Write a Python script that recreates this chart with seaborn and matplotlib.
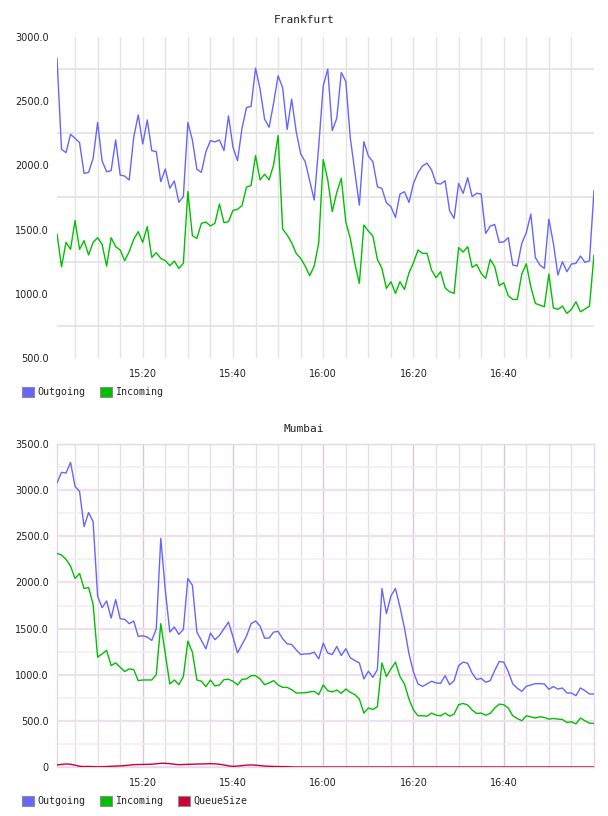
import pandas as pd
import matplotlib
matplotlib.use("Agg")
import matplotlib.pyplot as plt
import matplotlib.dates as mdates
from matplotlib.patches import Patch
from matplotlib.ticker import FixedLocator, FuncFormatter
import seaborn as sns

# one sample per minute, 15:01 .. 17:00
times = pd.date_range("2014-01-01 15:01", periods=120, freq="min")

fra_outgoing = [
    2836, 2125, 2099, 2242, 2211, 2177, 1938, 1946, 2055, 2334,
    2034, 1951, 1959, 2198, 1925, 1917, 1886, 2219, 2393, 2167,
    2354, 2115, 2107, 1873, 1972, 1822, 1879, 1713, 1757, 2334,
    2198, 1969, 1946, 2107, 2193, 2183, 2198, 2115, 2386, 2141,
    2037, 2289, 2451, 2459, 2758, 2595, 2360, 2297, 2485, 2698,
    2605, 2280, 2516, 2265, 2090, 2029, 1880, 1730, 2150, 2620,
    2750, 2271, 2367, 2724, 2654, 2211, 1951, 1690, 2185, 2073,
    2029, 1834, 1821, 1709, 1678, 1595, 1777, 1795, 1712, 1860,
    1943, 1996, 2017, 1965, 1860, 1855, 1881, 1647, 1588, 1860,
    1782, 1904, 1757, 1783, 1777, 1470, 1527, 1540, 1400, 1405,
    1437, 1224, 1216, 1393, 1476, 1621, 1284, 1224, 1198, 1581,
    1393, 1146, 1250, 1172, 1232, 1237, 1294, 1245, 1258, 1805,
]
fra_incoming = [
    1466, 1211, 1401, 1346, 1570, 1346, 1414, 1302, 1401, 1437,
    1385, 1216, 1437, 1367, 1341, 1258, 1328, 1424, 1484, 1401,
    1523, 1284, 1320, 1276, 1258, 1219, 1255, 1198, 1237, 1796,
    1453, 1432, 1549, 1559, 1528, 1549, 1700, 1554, 1562, 1650,
    1658, 1687, 1832, 1843, 2076, 1887, 1931, 1887, 2004, 2233,
    1505, 1458, 1398, 1315, 1276, 1216, 1141, 1216, 1398, 2045,
    1887, 1640, 1790, 1900, 1560, 1430, 1237, 1081, 1536, 1489,
    1450, 1268, 1198, 1042, 1094, 1003, 1094, 1034, 1164, 1242,
    1341, 1315, 1315, 1185, 1125, 1172, 1047, 1016, 1003, 1360,
    1325, 1367, 1206, 1229, 1159, 1120, 1268, 1211, 1063, 1086,
    985, 956, 956, 1154, 1234, 1055, 925, 912, 899, 1154,
    891, 878, 904, 847, 878, 938, 860, 881, 904, 1302,
]

mum_outgoing = [
    3077, 3193, 3185, 3301, 3040, 2986, 2605, 2757, 2659, 1850,
    1727, 1799, 1614, 1814, 1607, 1600, 1553, 1582, 1415, 1422,
    1408, 1371, 1498, 2478, 1916, 1462, 1517, 1437, 1491, 2043,
    1970, 1462, 1371, 1281, 1451, 1379, 1426, 1498, 1571, 1408,
    1237, 1328, 1419, 1553, 1582, 1527, 1397, 1397, 1462, 1469,
    1390, 1335, 1328, 1270, 1219, 1226, 1226, 1244, 1172, 1342,
    1234, 1219, 1306, 1208, 1281, 1183, 1154, 1128, 954, 1038,
    972, 1056, 1934, 1662, 1854, 1934, 1734, 1506, 1226, 1027,
    900, 874, 900, 929, 911, 907, 990, 892, 936, 1099,
    1136, 1125, 1016, 947, 961, 918, 936, 1045, 1143, 1136,
    1034, 900, 853, 820, 874, 889, 903, 903, 900, 842,
    871, 845, 856, 802, 802, 773, 856, 827, 791, 791,
]
mum_incoming = [
    2315, 2297, 2249, 2177, 2043, 2097, 1934, 1945, 1763, 1190,
    1226, 1263, 1099, 1128, 1081, 1034, 1063, 1056, 936, 943,
    943, 943, 1001, 1553, 1226, 900, 943, 892, 980, 1364,
    1244, 943, 929, 871, 943, 878, 889, 947, 951, 929,
    889, 951, 954, 990, 990, 954, 892, 911, 936, 889,
    863, 863, 838, 802, 802, 805, 813, 820, 784, 889,
    827, 813, 834, 798, 845, 809, 784, 736, 584, 639,
    624, 653, 1128, 980, 1063, 1136, 980, 900, 736, 617,
    555, 555, 551, 584, 562, 555, 584, 551, 573, 675,
    689, 671, 617, 580, 584, 562, 580, 639, 682, 675,
    639, 555, 526, 501, 555, 544, 530, 544, 537, 519,
    526, 519, 515, 483, 490, 468, 530, 501, 475, 472,
]
mum_queue = [
    22, 28, 33, 30, 20, 8, 5, 6, 4, 2,
    3, 5, 8, 10, 12, 15, 20, 25, 27, 28,
    29, 30, 35, 40, 40, 36, 30, 25, 27, 29,
    30, 32, 33, 34, 36, 34, 30, 22, 12, 7,
    10, 15, 20, 22, 20, 15, 10, 8, 6, 5,
    4, 3, 1, 0, 0, 0, 0, 0, 0, 0,
    0, 0, 0, 0, 0, 0, 0, 0, 0, 0,
    0, 0, 0, 0, 0, 0, 0, 0, 0, 0,
    0, 0, 0, 0, 0, 0, 0, 0, 0, 0,
    0, 0, 0, 0, 0, 0, 0, 0, 0, 0,
    0, 0, 0, 0, 0, 0, 0, 0, 0, 0,
    0, 0, 0, 0, 0, 0, 0, 0, 0, 0,
]

major_times = pd.to_datetime(["2014-01-01 15:20", "2014-01-01 15:40", "2014-01-01 16:00",
                              "2014-01-01 16:20", "2014-01-01 16:40"])
minor_times = pd.date_range("2014-01-01 15:05", "2014-01-01 16:55", freq="5min")

palette = {"Outgoing": "#6666ff", "Incoming": "#00c000", "QueueSize": "#cc0033"}

sns.set_style("white")
plt.rcParams["font.family"] = ["DejaVu Sans"]
MONO = "DejaVu Sans Mono"

W, H = 608, 816
fig = plt.figure(figsize=(W / 100, H / 100), dpi=100)


def px_axes(left, top, right, bottom):
    return fig.add_axes([left / W, 1 - bottom / H, (right - left) / W, (bottom - top) / H])


def draw(ax, df):
    long = df.melt(id_vars="time", var_name="series", value_name="value")
    sns.lineplot(data=long, x="time", y="value", hue="series", palette=palette,
                 linewidth=1.0, legend=False, ax=ax, zorder=3)
    ax.set_xlim(times[0], times[-1])
    ax.xaxis.set_major_locator(FixedLocator(mdates.date2num(major_times.to_pydatetime())))
    ax.xaxis.set_minor_locator(FixedLocator(mdates.date2num(minor_times.to_pydatetime())))
    ax.xaxis.set_major_formatter(mdates.DateFormatter("%H:%M"))
    ax.set_xlabel("")
    ax.set_ylabel("")
    ax.tick_params(axis="both", which="both", length=0, labelsize=7, colors="#222222")
    ax.tick_params(axis="x", pad=8)
    ax.tick_params(axis="y", pad=6)
    ax.set_axisbelow(True)


def add_legend(names, y):
    handles = [Patch(facecolor=palette[n], edgecolor="#8c8c8c", linewidth=0.8) for n in names]
    fig.legend(handles, names, loc="center left", bbox_to_anchor=(22 / W, 1 - y / H),
               ncol=len(names), frameon=False, prop={"family": MONO, "size": 7.2},
               handlelength=1.15, handleheight=1.15, handletextpad=0.35,
               columnspacing=1.5, borderaxespad=0, borderpad=0)


# --- Frankfurt ---
ax1 = px_axes(57, 37, 594, 358)
fra = pd.DataFrame({"time": times, "Outgoing": fra_outgoing, "Incoming": fra_incoming})
draw(ax1, fra)
ax1.set_ylim(500, 3000)
ax1.yaxis.set_major_locator(FixedLocator(range(500, 3001, 500)))
ax1.yaxis.set_minor_locator(FixedLocator(range(750, 3000, 500)))
ax1.yaxis.set_major_formatter(FuncFormatter(lambda v, p: f"{v:.1f}"))
ax1.grid(False)
ax1.grid(True, axis="y", which="minor", color="#e6e6e6", linewidth=1.4)
ax1.grid(True, axis="x", which="both", color="#e4e4e4", linewidth=1.0)
for s in ax1.spines.values():
    s.set_visible(False)
fig.text(0.5, 1 - 20 / H, "Frankfurt", ha="center", va="center", family=MONO, size=8, color="#222222")
add_legend(["Outgoing", "Incoming"], 392)

# --- Mumbai ---
ax2 = px_axes(57, 444, 594, 767)
mum = pd.DataFrame({"time": times, "Outgoing": mum_outgoing, "Incoming": mum_incoming,
                    "QueueSize": mum_queue})
draw(ax2, mum)
ax2.set_ylim(0, 3500)
ax2.yaxis.set_major_locator(FixedLocator(range(0, 3501, 500)))
ax2.yaxis.set_minor_locator(FixedLocator(range(250, 3500, 500)))
ax2.yaxis.set_major_formatter(FuncFormatter(lambda v, p: "0" if v == 0 else f"{v:.1f}"))
ax2.grid(False)
ax2.grid(True, axis="y", which="major", color="#efe0ef", linewidth=1.6)
ax2.grid(True, axis="y", which="minor", color="#f2eef2", linewidth=1.2)
ax2.grid(True, axis="x", which="major", color="#dcc6df", linewidth=1.0)
ax2.grid(True, axis="x", which="minor", color="#e6e1e8", linewidth=1.0)
for s in ax2.spines.values():
    s.set_color("#ead6ec")
    s.set_linewidth(1.0)
fig.text(0.5, 1 - 429 / H, "Mumbai", ha="center", va="center", family=MONO, size=8, color="#222222")
add_legend(["Outgoing", "Incoming", "QueueSize"], 801)

fig.savefig("out.png", dpi=100)
